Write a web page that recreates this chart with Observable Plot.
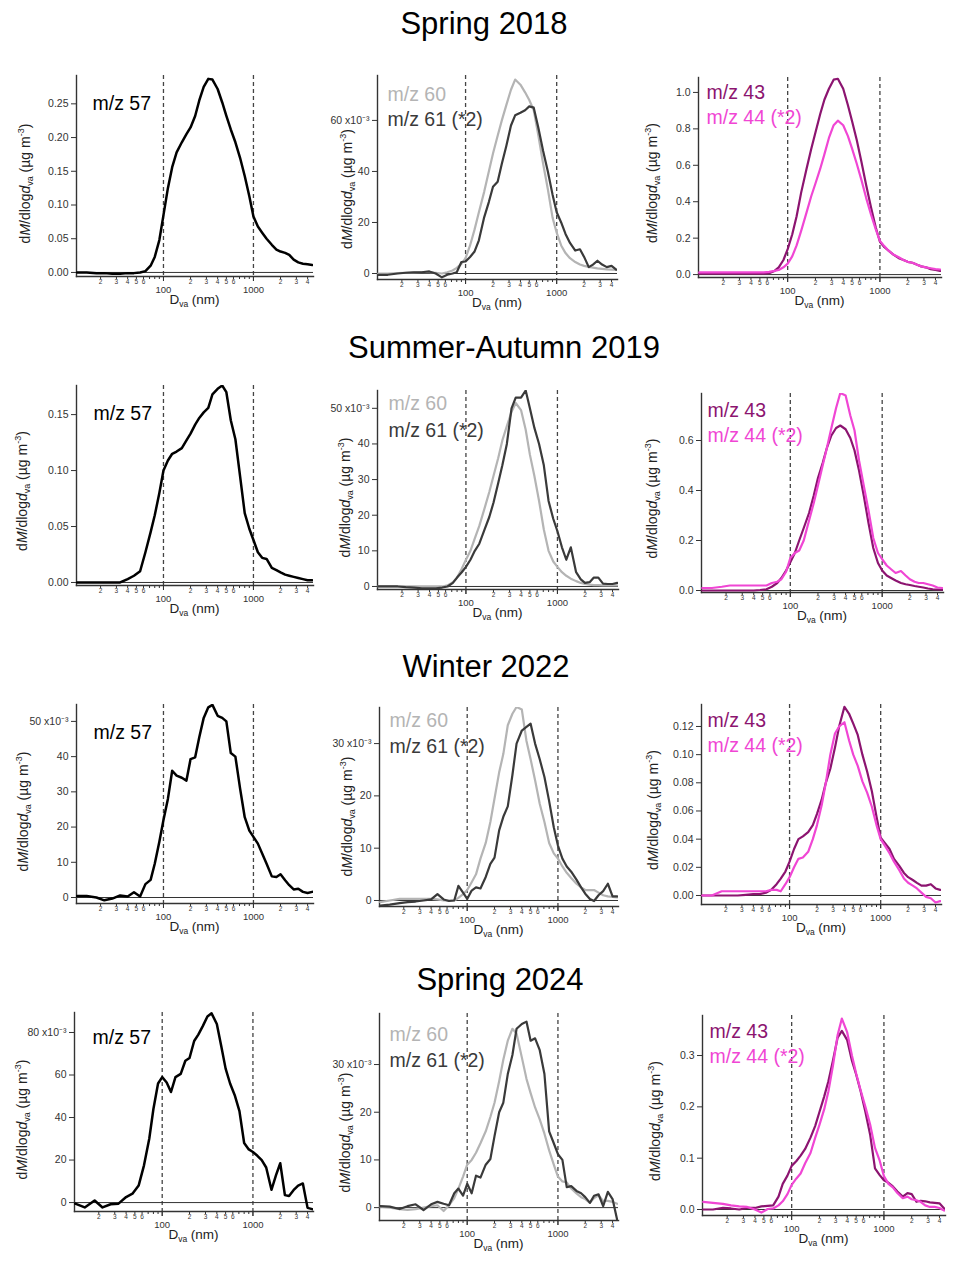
<!DOCTYPE html>
<html>
<head>
<meta charset="utf-8">
<script src="https://cdn.jsdelivr.net/npm/d3@7"></script>
<script src="https://cdn.jsdelivr.net/npm/@observablehq/plot@0.6"></script>
<style>
  body { margin: 0; background: #fff; }
  #page { position: relative; width: 959px; height: 1266px; font-family: 'Liberation Sans', Arial, sans-serif; }
  .title { position: absolute; width: 600px; text-align: center; font-size: 31px; line-height: 31px; color: #000; }
  .panel { position: absolute; }
</style>
</head>
<body>
<div id="page"></div>
<script>
// ---------------- DATA ----------------
const dva = [11,14,18,22,27,33,40,47,55,63,72,80,90,100,112,125,140,160,180,200,225,250,280,315,350,400,450,500,560,630,710,800,900,1000,1120,1250,1400,1600,1800,2000,2250,2500,2800,3150,3550,4000,4500];

const seasons = ["Spring 2018", "Summer-Autumn 2019", "Winter 2022", "Spring 2024"];
const seriesNames = ["m/z 57", "m/z 60", "m/z 61 (*2)", "m/z 43", "m/z 44 (*2)"];

// Spring 2018
const s18_57 = [0,0,-0.001,-0.001,-0.002,-0.002,-0.001,-0.001,0,0.002,0.010,0.023,0.048,0.085,0.125,0.156,0.178,0.193,0.205,0.215,0.232,0.255,0.275,0.287,0.286,0.272,0.252,0.232,0.212,0.193,0.170,0.143,0.113,0.083,0.068,0.059,0.050,0.041,0.034,0.031,0.029,0.026,0.019,0.015,0.013,0.012,0.011];
const s18_60 = [0,0,0.2,0.3,0.4,0.5,0.5,0.3,0,0.5,1.2,2.2,3.8,6,11,17,24,32,40,47,54,60,66,72,76,74,71,68,64,54,43,33,22,16,11,8,6,4.5,3.5,3,2.6,2.3,2,1.8,1.6,1.5,1.4];
const s18_61 = [-0.5,-0.5,0,0.3,0.5,0.5,0.8,0,-1.5,-0.5,0,0.5,4.5,4.7,6.5,8.5,13,22,28,34,36,43,50,58,62,63,64,65.5,65,57,48,40,31,24,20,15.5,12,9,9.5,6.5,2.5,3.5,5,3.5,2.5,3,1.5];
const s18_43 = [0.005,0.005,0.005,0.005,0.005,0.005,0.005,0.005,0.005,0.008,0.02,0.04,0.08,0.14,0.22,0.32,0.45,0.58,0.69,0.78,0.88,0.96,1.02,1.07,1.075,1.02,0.93,0.84,0.74,0.62,0.49,0.37,0.26,0.18,0.15,0.13,0.11,0.09,0.08,0.07,0.065,0.055,0.045,0.04,0.03,0.025,0.02];
const s18_44 = [0.012,0.012,0.012,0.012,0.012,0.012,0.012,0.012,0.012,0.015,0.02,0.025,0.04,0.06,0.1,0.16,0.24,0.34,0.43,0.5,0.58,0.66,0.75,0.82,0.845,0.82,0.76,0.69,0.61,0.52,0.42,0.33,0.25,0.185,0.155,0.13,0.11,0.095,0.08,0.07,0.065,0.055,0.045,0.04,0.035,0.03,0.028];

// Summer-Autumn 2019
const sa19_57 = [0,0,0,0,0,0,0.003,0.006,0.010,0.027,0.045,0.060,0.080,0.100,0.109,0.115,0.117,0.120,0.127,0.133,0.141,0.147,0.152,0.156,0.168,0.173,0.176,0.170,0.145,0.128,0.095,0.062,0.048,0.038,0.027,0.022,0.021,0.013,0.011,0.009,0.007,0.006,0.005,0.004,0.003,0.002,0.002];
const sa19_60 = [0,0,0,0,0,0,0,0,0,0.3,1.2,2.5,5,7.5,10,13.5,17,22,26.5,31,36,41,45,49,51.5,49.5,44,37,31,24,16,10,7,5.5,4,3,2.2,1.5,1,0.7,0.5,0.4,0.4,0.3,0.3,0.3,0.3];
const sa19_61 = [0,0,0,-0.2,-0.3,-0.5,-0.5,-0.5,-0.3,0,1,2.5,4,5.5,7.5,10,12,16,19.5,23.5,29,34,40,50,53,53,55,50,44.5,40,34,24,19,15.5,11,7.5,11,4,2,1,1.2,2.5,2.5,0.8,0.7,0.7,1];
const sa19_43 = [0,0,0,0,0,0,0,0.002,0.005,0.015,0.03,0.05,0.08,0.113,0.15,0.2,0.25,0.31,0.38,0.45,0.51,0.57,0.62,0.65,0.66,0.645,0.61,0.56,0.48,0.38,0.27,0.17,0.11,0.08,0.06,0.05,0.04,0.03,0.025,0.022,0.018,0.015,0.012,0.008,0.005,0.004,0.003];
const sa19_44 = [0.01,0.01,0.015,0.02,0.02,0.02,0.02,0.02,0.02,0.03,0.035,0.045,0.075,0.13,0.15,0.16,0.2,0.28,0.35,0.42,0.5,0.57,0.65,0.73,0.79,0.78,0.7,0.64,0.52,0.42,0.32,0.21,0.15,0.125,0.1,0.085,0.07,0.078,0.06,0.045,0.035,0.03,0.03,0.025,0.02,0.012,0.01];

// Winter 2022
const w22_57 = [0.4,0.4,0,-0.8,-0.3,0.6,0.3,1.5,0.3,3.8,5,9.6,15.8,22,28,36,34.6,34,33.2,39.3,39.8,45.5,51,54,54.7,51.6,51,50,41,40,31,22.8,19,17.2,15.3,12.5,9.6,6,5.8,6.6,4.9,3.5,2.3,2.5,1.6,1.3,1.6];
const w22_60 = [-0.3,0,0.3,0.3,0.3,0.3,0.3,0.2,0,0,0,0.5,1.2,2,3.5,5,8,11,15,19.5,24.5,28,33.5,35.7,37,36.5,30.5,27,23,18.5,15,11,9,8,6.5,5.3,4.3,3.2,2.5,2,2,2,1.5,1,0.8,0.7,0.6];
const w22_61 = [-1,-0.8,-0.5,-0.3,-0.2,0,0.2,1.2,0.2,-0.1,0,2.8,1.5,0.3,1.9,2.5,2.3,4.5,7,8.2,13.4,16,18,24,30,32.5,33.2,33.8,30,27,23.6,19,14,10.5,8,6.5,5.5,4,2.5,1.3,0.3,-0.1,1,1.8,3.2,0.8,0.8];
const w22_43 = [0,0,0,0,0,0.0005,0.001,0.001,0.002,0.004,0.008,0.012,0.017,0.024,0.033,0.04,0.042,0.045,0.05,0.058,0.068,0.08,0.09,0.105,0.12,0.134,0.129,0.122,0.114,0.1,0.088,0.074,0.056,0.041,0.037,0.033,0.026,0.021,0.016,0.013,0.011,0.009,0.007,0.007,0.008,0.005,0.004];
const w22_44 = [0,0,0.003,0.003,0.003,0.003,0.003,0.003,0.003,0.004,0.004,0.003,0.008,0.013,0.02,0.026,0.027,0.031,0.04,0.05,0.064,0.08,0.1,0.115,0.12,0.123,0.11,0.1,0.092,0.081,0.073,0.063,0.05,0.04,0.035,0.03,0.024,0.018,0.012,0.009,0.007,0.005,0.002,-0.001,-0.002,-0.005,-0.004];

// Spring 2024
const s24_57 = [-0.5,-2.3,1,-2.3,-0.8,-0.5,2.6,4.2,8,17.5,30,44,56,59,56.5,52,59,60.5,66.7,68,76,79,83,87.5,89,84,73,63,56,50.5,43,28,25,23.8,22,20,16.5,6,13,18.5,3.5,3.1,5.8,8,9,-2.5,-3.1];
const s24_60 = [0.2,0,-0.3,-0.5,-0.3,0,0.3,0.5,-0.7,0.5,2,4,6.5,9,10,11.5,13.5,16,19,22,26.5,31,35,37.5,36.5,31.5,27,24,21,18.5,15.5,12,9,6.5,5.5,5.3,4,3,2.2,1.8,1,2,2.6,1.4,1.4,1.2,0.8];
const s24_61 = [0.3,0.2,-0.3,0.3,0.7,-0.5,0.7,1.2,0.8,0.5,3,4,2.5,5,3,6.7,6.3,9,10.2,15,20,22,28,32,37.5,38.5,39,35,35.5,33,28,16,13.5,11.2,10,4.3,4.5,3.5,3,2.2,1,2.5,2.8,0.3,3.3,1.8,-2.6];
const s24_43 = [0,0,0.003,0.002,0,0.003,0.003,0.006,0.007,0.008,0.025,0.05,0.066,0.085,0.094,0.105,0.118,0.14,0.163,0.19,0.22,0.25,0.29,0.335,0.348,0.33,0.29,0.263,0.23,0.19,0.145,0.08,0.067,0.057,0.052,0.045,0.035,0.025,0.032,0.03,0.015,0.017,0.016,0.014,0.013,0.012,0.002];
const s24_44 = [0.015,0.013,0.011,0.008,0.006,0.005,0,-0.006,0.001,0.002,0.008,0.016,0.03,0.048,0.06,0.07,0.09,0.11,0.14,0.165,0.195,0.23,0.28,0.34,0.372,0.345,0.3,0.265,0.232,0.2,0.165,0.12,0.095,0.065,0.05,0.043,0.032,0.022,0.025,0.02,0.018,0.015,0.008,0.005,0.005,0.003,-0.002];

// Tick values / labels
const xDomain = [10.8, 4650];
const dashedAt = [100, 1000];
const majorTicks = [100, 1000];
const minorTicks = [20,30,40,50,60,70,80,90,200,300,400,500,600,700,800,900,2000,3000,4000];
const minorLabels = ["2","3","4","5","6","","","","2","3","4","5","6","","","","2","3","4"];
const yTicksList = [
  [0,0.05,0.10,0.15,0.20,0.25], [0,20,40,60], [0,0.2,0.4,0.6,0.8,1.0],
  [0,0.05,0.10,0.15], [0,10,20,30,40,50], [0,0.2,0.4,0.6],
  [0,10,20,30,40,50], [0,10,20,30], [0,0.02,0.04,0.06,0.08,0.10,0.12],
  [0,20,40,60,80], [0,10,20,30], [0,0.1,0.2,0.3]
];
const yFormats = ["f2","e3","f1","f2","e3","f1","e3","e3","f2","e3","e3","f1"];

// ---------------- STYLE / LAYOUT ----------------
const colors = {"m/z 57":"#000000","m/z 60":"#b4b4b4","m/z 61 (*2)":"#3a3a3a","m/z 43":"#8c1470","m/z 44 (*2)":"#f046d4"};
const panelData = [
  [[seriesNames[0], s18_57]], [[seriesNames[1], s18_60],[seriesNames[2], s18_61]], [[seriesNames[3], s18_43],[seriesNames[4], s18_44]],
  [[seriesNames[0], sa19_57]], [[seriesNames[1], sa19_60],[seriesNames[2], sa19_61]], [[seriesNames[3], sa19_43],[seriesNames[4], sa19_44]],
  [[seriesNames[0], w22_57]], [[seriesNames[1], w22_60],[seriesNames[2], w22_61]], [[seriesNames[3], w22_43],[seriesNames[4], w22_44]],
  [[seriesNames[0], s24_57]], [[seriesNames[1], s24_60],[seriesNames[2], s24_61]], [[seriesNames[3], s24_43],[seriesNames[4], s24_44]]
];
const layout = [
  {left:76, right:313, top:75, bottom:276, yDomain:[-0.006,0.292], ldx:16, lb:[35], ylx:-46, yly:8},
  {left:377, right:617, top:75, bottom:279, yDomain:[-2.35,77.6], ldx:10, lb:[26,51], ylx:-25, yly:12},
  {left:698, right:941, top:77, bottom:277, yDomain:[-0.016,1.082], ldx:8, lb:[22,47], ylx:-41, yly:6},
  {left:76, right:313, top:385, bottom:585, yDomain:[-0.0027,0.176], ldx:17, lb:[35], ylx:-49, yly:6},
  {left:377, right:618, top:390, bottom:589, yDomain:[-0.85,55], ldx:11, lb:[20,47], ylx:-27, yly:8},
  {left:701, right:943, top:393, bottom:592, yDomain:[-0.008,0.788], ldx:6, lb:[24,49], ylx:-44, yly:6},
  {left:76, right:313, top:704, bottom:903, yDomain:[-1.7,54.8], ldx:17, lb:[35], ylx:-48, yly:8},
  {left:379, right:618, top:707, bottom:906, yDomain:[-1.15,36.9], ldx:10, lb:[20,46], ylx:-27, yly:10},
  {left:701, right:941, top:704, bottom:904, yDomain:[-0.0064,0.1356], ldx:6, lb:[23,48], ylx:-43, yly:6},
  {left:74, right:313, top:1012, bottom:1211, yDomain:[-4.2,89.4], ldx:18, lb:[32], ylx:-47, yly:8},
  {left:379, right:618, top:1013, bottom:1220, yDomain:[-2.7,40.7], ldx:10, lb:[28,54], ylx:-29, yly:16},
  {left:702, right:945, top:1015, bottom:1215, yDomain:[-0.0117,0.378], ldx:7, lb:[23,48], ylx:-42, yly:6}
];
const titlePos = [{cx:484, base:33},{cx:504, base:357},{cx:486, base:676},{cx:500, base:989}];

const FONT = "'Liberation Sans', Arial, sans-serif";
const page = document.getElementById("page");

seasons.forEach((s, i) => {
  const d = document.createElement("div");
  d.className = "title";
  d.textContent = s;
  d.style.left = (titlePos[i].cx - 300) + "px";
  d.style.top = (titlePos[i].base - 25) + "px";
  page.appendChild(d);
});

function fmtFor(kind, ticks) {
  const top = ticks[ticks.length - 1];
  if (kind === "f2") return v => v.toFixed(2);
  if (kind === "f1") return v => v.toFixed(1);
  return v => v === top ? `${v} x10⁻³` : String(v);
}

const minorRows = minorTicks.map((v, i) => ({v, label: minorLabels[i]}));

layout.forEach((L, k) => {
  const ml = 70, mr = 8, mt = 6, mb = 46;
  const w = L.right - L.left, h = L.bottom - L.top;
  const perPx = (L.yDomain[1] - L.yDomain[0]) / h;   // data units per pixel (for tick length)
  const series = panelData[k];
  const rows = series.flatMap(([name, vals]) => dva.map((dd, i) => ({d: dd, v: vals[i], name})));
  const ticks = yTicksList[k];
  const marks = [
    Plot.ruleX(dashedAt, {stroke: "#444", strokeWidth: 1.3, strokeDasharray: "4,3"}),
    Plot.ruleY([0], {stroke: "#333", strokeWidth: 1}),
    Plot.axisY(ticks, {anchor: "left", tickSize: 5, tickPadding: 3, tickFormat: fmtFor(yFormats[k], ticks), fontSize: 10.5, label: null, stroke: "#333", fill: "#333"}),
    Plot.axisX(majorTicks, {anchor: "bottom", tickSize: 5, tickPadding: 4.5, tickFormat: v => String(v), fontSize: 9.5, label: null, stroke: "#333", fill: "#333"}),
    Plot.ruleX(majorTicks, {x: d => d, y1: L.yDomain[0], y2: L.yDomain[0] - 5 * perPx, stroke: "#333", strokeWidth: 1}),
    Plot.ruleX(minorTicks, {x: d => d, y1: L.yDomain[0], y2: L.yDomain[0] - 3 * perPx, stroke: "#333", strokeWidth: 1}),
    Plot.text(minorRows, {x: "v", text: "label", frameAnchor: "bottom", lineAnchor: "top", dy: 3, fontSize: 6.5, fill: "#333"}),
    Plot.frame({anchor: "left", stroke: "#333", strokeWidth: 1.4}),
    Plot.frame({anchor: "bottom", stroke: "#333", strokeWidth: 1.4}),
    ...series.map(([name]) => Plot.line(rows.filter(r => r.name === name), {x: "d", y: "v", stroke: colors[name], strokeWidth: name === "m/z 57" ? 2.5 : 2.2, strokeLinejoin: "round", clip: true})),
    ...series.map(([name], j) => Plot.text([name], {text: t => t, frameAnchor: "top-left", textAnchor: "start", lineAnchor: "top", dx: L.ldx, dy: L.lb[j] - 14, fontSize: 19.5, fill: colors[name], fontFamily: FONT}))
  ];
  const chart = Plot.plot({
    width: ml + w + mr, height: mt + h + mb,
    marginLeft: ml, marginRight: mr, marginTop: mt, marginBottom: mb,
    x: {type: "log", domain: xDomain, axis: null},
    y: {domain: L.yDomain, axis: null},
    style: {fontFamily: FONT, color: "#333", background: "transparent", overflow: "visible"},
    marks
  });
  chart.classList.add("panel");
  chart.style.left = (L.left - ml) + "px";
  chart.style.top = (L.top - mt) + "px";
  const svg = d3.select(chart);
  // x-axis label: D_va (nm)
  const xl = svg.append("text").attr("x", ml + w / 2).attr("y", mt + h + 28)
    .attr("text-anchor", "middle").attr("font-size", 13.5).attr("fill", "#222").attr("font-family", FONT);
  xl.append("tspan").text("D");
  xl.append("tspan").attr("font-size", 8.5).attr("dy", 3).text("va");
  xl.append("tspan").attr("dy", -3).text(" (nm)");
  // y-axis label: dM/dlogd_va (µg m^-3)
  const yl = svg.append("text")
    .attr("transform", `translate(${ml + L.ylx},${mt + h / 2 + L.yly}) rotate(-90)`)
    .attr("text-anchor", "middle").attr("font-size", 14).attr("fill", "#222").attr("font-family", FONT);
  yl.append("tspan").text("d");
  yl.append("tspan").attr("font-style", "italic").text("M");
  yl.append("tspan").text("/dlog");
  yl.append("tspan").attr("font-style", "italic").text("d");
  yl.append("tspan").attr("font-size", 9).attr("dy", 3).text("va");
  yl.append("tspan").attr("dy", -3).text(" (µg m");
  yl.append("tspan").attr("font-size", 9).attr("dy", -6).text("-3");
  yl.append("tspan").attr("dy", 6).text(")");
  page.appendChild(chart);
});
</script>
</body>
</html>
